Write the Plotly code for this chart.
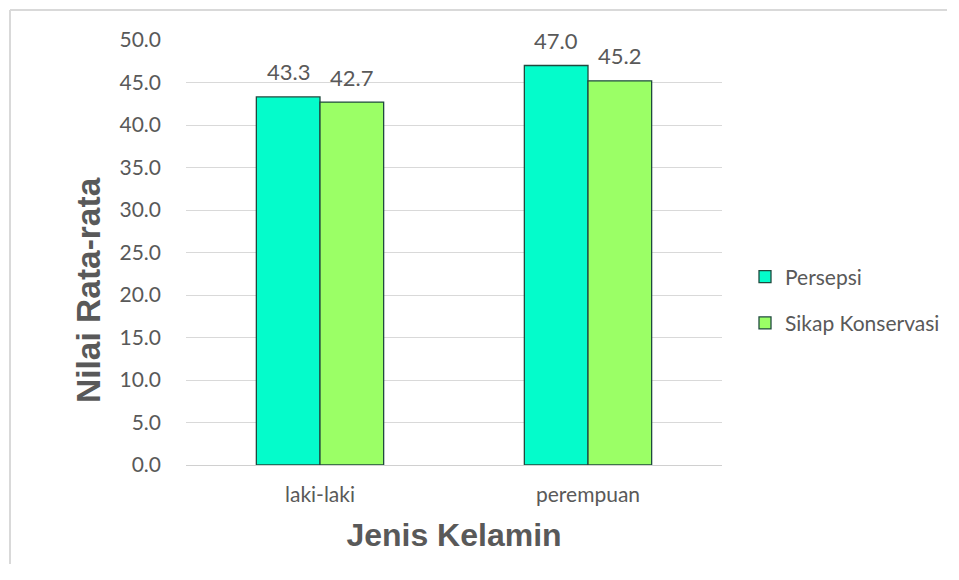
import plotly.graph_objects as go

categories = ["laki-laki", "perempuan"]
persepsi = [43.3, 47.0]
sikap = [42.7, 45.2]
series_names = ["Persepsi", "Sikap Konservasi"]
y_ticks = [0, 5, 10, 15, 20, 25, 30, 35, 40, 45, 50]

# page body has an 8px margin: figure is sized to fit inside the window
OFF = 8
W, H = 959 - 2 * OFF - 4, 580 - 2 * OFF - 8
L, T = 186 - OFF, 40 - OFF
RIGHT, BOTTOM = 722 - OFF, 465 - OFF
R, B = W - RIGHT, H - BOTTOM
pw, ph = RIGHT - L, BOTTOM - T
BARGAP = 0.525

colors = ["#04FCCB", "#9BFF66"]
edge = "#1F4A3E"
txt = "#595959"
tick_font = "Lato"
title_font = "Liberation Sans"

fig = go.Figure()
for name, vals, col in zip(series_names, [persepsi, sikap], colors):
    fig.add_trace(go.Bar(
        x=categories, y=vals, name=name, legendgroup=name,
        marker=dict(color=col, line=dict(color=edge, width=1.3)),
    ))

# data labels, placed above each bar
half = (1 - BARGAP) / 4
for k, vals in enumerate([persepsi, sikap]):
    for i, v in enumerate(vals):
        fig.add_annotation(
            x=i + (-half if k == 0 else half), y=v, xref="x", yref="y",
            text=f"{v:.1f}", showarrow=False, yanchor="middle", yshift=25,
            font=dict(size=22, color=txt, family=tick_font),
        )

def px_x(p):
    return (p - OFF - L) / pw

def px_y(p):
    return (BOTTOM - (p - OFF)) / ph

# y-axis title (placed lower than plot centre, as in the reference)
fig.add_annotation(
    text="<b>Nilai Rata-rata</b>", xref="paper", yref="paper",
    x=px_x(88), y=px_y(290), xanchor="center", yanchor="middle",
    textangle=-90, showarrow=False,
    font=dict(size=33.5, color=txt, family=title_font),
)

fig.update_layout(
    width=W, height=H,
    margin=dict(l=L, r=R, t=T, b=B, autoexpand=False),
    paper_bgcolor="white", plot_bgcolor="white",
    barmode="group", bargap=BARGAP, bargroupgap=0,
    font=dict(family=tick_font, color=txt, size=21),
    xaxis=dict(
        showgrid=False, showline=True, linecolor="#D0D0D0", linewidth=1,
        ticks="", ticklabelstandoff=11,
        tickfont=dict(size=21, color=txt, family=tick_font),
        title=dict(text="<b>Jenis Kelamin</b>", standoff=18,
                   font=dict(size=32, color=txt, family=title_font)),
    ),
    yaxis=dict(
        range=[0, 50], tickvals=y_ticks, tickformat=".1f",
        showgrid=True, gridcolor="#D9D9D9", gridwidth=1, zeroline=False,
        showline=False, ticks="", ticklabelstandoff=24,
        tickfont=dict(size=21, color=txt, family=tick_font),
    ),
    legend=dict(
        x=px_x(745), y=px_y(300), xanchor="left", yanchor="middle",
        font=dict(size=21, color=txt, family=tick_font),
        tracegroupgap=16, bgcolor="rgba(0,0,0,0)",
    ),
    shapes=[
        dict(type="line", xref="paper", yref="paper",
             x0=px_x(10), x1=px_x(OFF + W), y0=px_y(10), y1=px_y(10),
             line=dict(color="#D9D9D9", width=2), layer="below"),
        dict(type="line", xref="paper", yref="paper",
             x0=px_x(10), x1=px_x(10), y0=px_y(10), y1=px_y(OFF + H),
             line=dict(color="#D9D9D9", width=2), layer="below"),
    ],
)

fig.write_html("out.html")
